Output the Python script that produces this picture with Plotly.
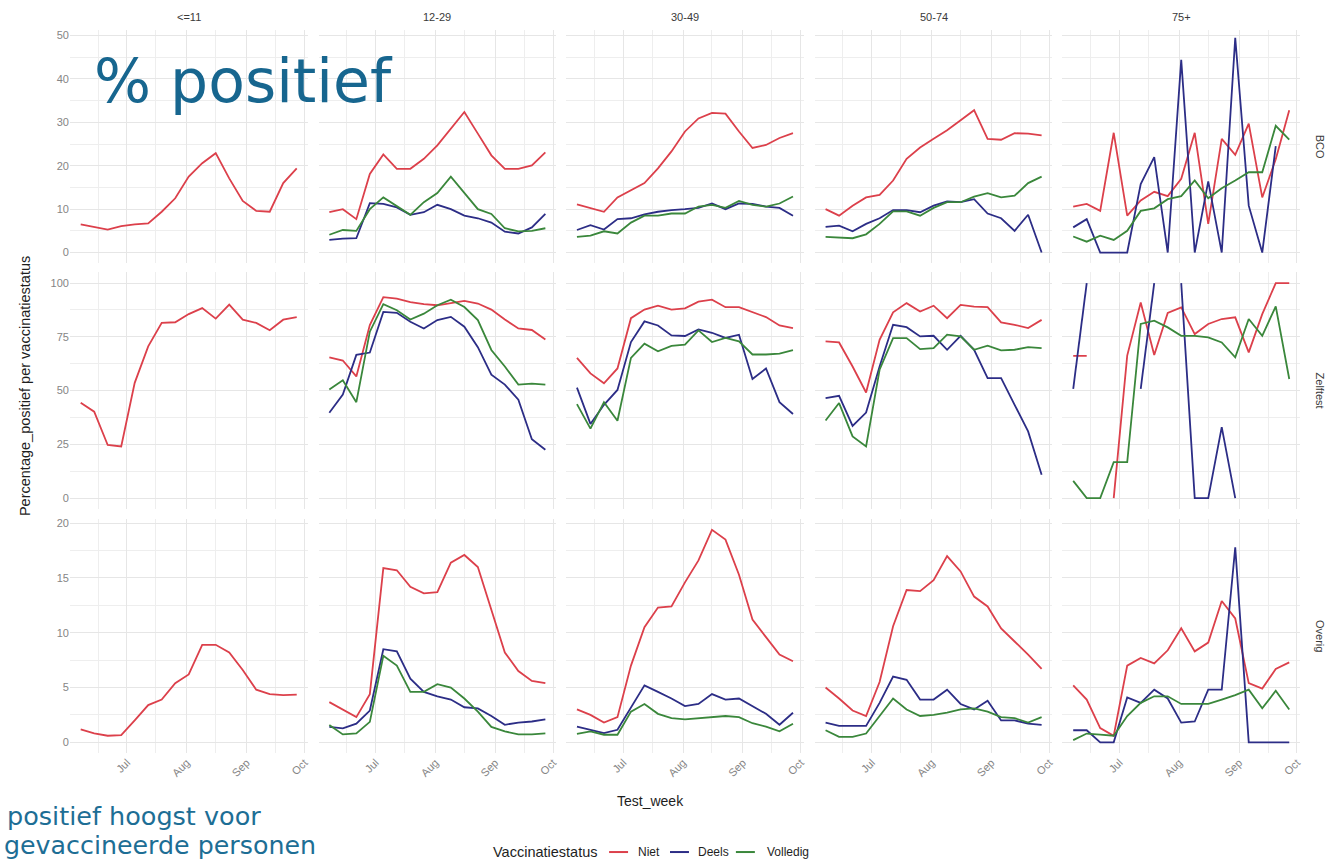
import plotly.graph_objects as go

# ---------------- data ----------------
weeks = ["2021-06-07", "2021-06-14", "2021-06-21", "2021-06-28", "2021-07-05",
         "2021-07-12", "2021-07-19", "2021-07-26", "2021-08-02", "2021-08-09",
         "2021-08-16", "2021-08-23", "2021-08-30", "2021-09-06", "2021-09-13",
         "2021-09-20", "2021-09-27"]
age_groups = ["<=11", "12-29", "30-49", "50-74", "75+"]
test_types = ["BCO", "Zelftest", "Overig"]
statuses = ["Niet", "Deels", "Volledig"]
month_ticks = ["2021-07-01", "2021-08-01", "2021-09-01", "2021-10-01"]

NA17 = [None] * 17

bco_niet = {
    "<=11": [6.5, 5.9, 5.3, 6.1, 6.5, 6.7, 9.4, 12.5, 17.5, 20.6, 22.9, 17.1, 11.9, 9.6, 9.4, 16.0, 19.4],
    "12-29": [9.3, 10.0, 7.7, 18.1, 22.6, 19.3, 19.3, 21.6, 24.7, 28.5, 32.4, 27.4, 22.4, 19.3, 19.3, 20.1, 23.1],
    "30-49": [11.1, 10.2, 9.4, 12.7, 14.4, 16.0, 19.4, 23.3, 27.9, 30.9, 32.2, 32.0, 27.9, 24.1, 24.8, 26.4, 27.5],
    "50-74": [10.0, 8.5, 10.8, 12.7, 13.3, 16.6, 21.6, 24.2, 26.2, 28.2, 30.5, 32.8, 26.2, 26.0, 27.5, 27.4, 27.0],
    "75+": [10.6, 11.2, 9.6, 27.6, 8.5, 12.0, 14.0, 13.0, 17.0, 27.6, 6.6, 26.2, 22.5, 29.7, 12.7, 21.5, 32.8],
}
bco_deels = {
    "<=11": NA17,
    "12-29": [2.9, 3.2, 3.3, 11.4, 11.2, 10.4, 8.7, 9.3, 11.0, 10.0, 8.5, 7.9, 6.9, 4.8, 4.4, 5.8, 8.9],
    "30-49": [5.2, 6.3, 5.3, 7.7, 7.9, 8.8, 9.4, 9.8, 10.0, 10.3, 11.3, 10.0, 11.3, 11.2, 10.6, 10.3, 8.5],
    "50-74": [5.9, 6.2, 4.9, 6.6, 7.9, 9.8, 9.8, 9.3, 10.8, 11.8, 11.6, 12.3, 9.0, 7.9, 5.0, 8.7, 0.0],
    "75+": [5.8, 7.7, 0, 0, 0, 15.8, 22.0, 0, 44.4, 0, 16.4, 0, 49.5, 10.8, 0, 24.5, None],
}
bco_volledig = {
    "<=11": NA17,
    "12-29": [4.1, 5.2, 5.0, 10.0, 12.7, 10.8, 8.7, 11.6, 13.7, 17.5, 13.7, 10.0, 8.9, 5.6, 4.9, 5.0, 5.6],
    "30-49": [3.6, 3.9, 4.9, 4.4, 6.9, 8.5, 8.5, 9.0, 9.0, 10.6, 11.0, 10.3, 11.9, 11.0, 10.6, 11.3, 12.9],
    "50-74": [3.6, 3.5, 3.3, 4.2, 6.6, 9.5, 9.5, 8.5, 10.3, 11.6, 11.6, 12.9, 13.7, 12.7, 13.1, 16.0, 17.5],
    "75+": [3.7, 2.5, 3.9, 2.9, 5.0, 9.6, 10.2, 12.3, 13.0, 16.6, 12.5, 14.8, 16.6, 18.5, 18.5, 29.2, 26.0],
}

zelftest_niet = {
    "<=11": [44.4, 40.2, 24.7, 24.0, 53.6, 70.6, 81.5, 81.8, 85.6, 88.4, 83.5, 90.0, 83.0, 81.5, 78.1, 83.0, 84.2],
    "12-29": [65.5, 64.0, 56.6, 80.5, 93.5, 92.8, 91.2, 90.2, 89.7, 90.8, 91.7, 90.5, 87.7, 83.1, 78.9, 78.2, 73.8],
    "30-49": [65.2, 58.0, 53.4, 60.3, 83.7, 87.7, 89.5, 87.7, 88.3, 91.4, 92.3, 88.8, 88.8, 86.5, 84.2, 80.3, 79.1],
    "50-74": [72.9, 72.4, 61.2, 49.1, 73.6, 86.4, 90.7, 86.8, 89.5, 83.7, 89.9, 89.1, 88.8, 81.7, 80.6, 79.1, 82.9],
    "75+": [66.2, 66.2, None, 0, 66.3, 91.0, 66.6, 86.1, 88.7, 76.3, 81.0, 83.3, 84.1, 67.8, 85.6, 100, 100],
}
zelftest_deels = {
    "<=11": NA17,
    "12-29": [39.7, 48.2, 66.6, 67.7, 86.6, 86.2, 82.0, 78.9, 82.8, 84.3, 79.7, 70.2, 57.4, 52.8, 45.8, 27.4, 22.5],
    "30-49": [51.4, 34.5, 43.4, 50.3, 72.6, 82.2, 80.3, 75.7, 75.4, 78.5, 76.9, 74.5, 76.0, 55.4, 60.3, 44.6, 39.1],
    "50-74": [46.5, 47.6, 33.6, 39.8, 61.2, 80.6, 79.5, 75.2, 75.5, 69.0, 75.5, 69.0, 55.8, 55.8, 43.4, 31.0, 10.9],
    "75+": [50.8, 100, None, None, None, 50.8, 100, None, 100, 0, 0, 33.0, 0, None, None, None, None],
}
zelftest_volledig = {
    "<=11": NA17,
    "12-29": [50.5, 54.8, 44.6, 77.4, 90.2, 87.4, 83.1, 85.8, 89.7, 92.3, 88.9, 82.8, 68.9, 61.2, 52.8, 53.2, 52.8],
    "30-49": [43.7, 32.3, 44.6, 36.0, 65.2, 71.8, 68.3, 70.8, 71.4, 78.0, 72.6, 74.5, 72.9, 66.8, 66.8, 67.2, 68.8],
    "50-74": [36.1, 44.2, 28.7, 24.0, 59.7, 74.4, 74.4, 69.3, 69.8, 76.0, 75.2, 69.0, 70.9, 68.7, 69.0, 70.2, 69.8],
    "75+": [8.0, 0, 0, 16.7, 16.7, 81.0, 82.5, 79.4, 75.5, 75.5, 74.8, 72.4, 65.5, 83.3, 75.5, 89.2, 55.4],
}

overig_niet = {
    "<=11": [1.18, 0.82, 0.6, 0.66, 2.0, 3.4, 3.9, 5.4, 6.2, 8.9, 8.9, 8.2, 6.6, 4.8, 4.4, 4.3, 4.35],
    "12-29": [3.67, 3.0, 2.3, 4.4, 15.9, 15.7, 14.2, 13.6, 13.7, 16.4, 17.1, 16.0, 12.0, 8.2, 6.5, 5.6, 5.4],
    "30-49": [3.0, 2.5, 1.8, 2.3, 7.0, 10.5, 12.3, 12.4, 14.6, 16.6, 19.4, 18.5, 15.3, 11.2, 9.6, 8.0, 7.4],
    "50-74": [5.0, 4.0, 2.9, 2.4, 5.5, 10.6, 13.9, 13.8, 14.8, 17.0, 15.6, 13.3, 12.4, 10.4, 9.2, 8.0, 6.7],
    "75+": [5.2, 3.9, 1.3, 0.6, 7.0, 7.7, 7.2, 8.4, 10.4, 8.3, 9.1, 12.9, 11.3, 5.4, 4.9, 6.7, 7.3],
}
overig_deels = {
    "<=11": NA17,
    "12-29": [1.4, 1.27, 1.7, 2.9, 8.5, 8.3, 5.8, 4.6, 4.2, 3.9, 3.2, 3.1, 2.4, 1.6, 1.8, 1.9, 2.1],
    "30-49": [1.44, 1.14, 0.84, 1.14, 3.2, 5.2, 4.6, 4.0, 3.3, 3.5, 4.4, 3.9, 4.0, 3.3, 2.6, 1.6, 2.7],
    "50-74": [1.8, 1.5, 1.5, 1.5, 3.6, 6.0, 5.7, 3.9, 3.9, 4.8, 3.5, 3.0, 3.8, 2.0, 2.0, 1.7, 1.6],
    "75+": [1.1, 1.1, 0, 0, 4.1, 3.6, 4.8, 4.0, 1.8, 1.9, 4.8, 4.8, 17.8, 0, 0, 0, 0],
}
overig_volledig = {
    "<=11": NA17,
    "12-29": [1.57, 0.72, 0.81, 1.87, 7.9, 7.0, 4.6, 4.6, 5.3, 5.0, 4.0, 2.8, 1.4, 1.0, 0.72, 0.72, 0.81],
    "30-49": [0.78, 1.0, 0.69, 0.69, 2.8, 3.5, 2.6, 2.2, 2.1, 2.2, 2.3, 2.4, 2.3, 1.74, 1.44, 1.0, 1.7],
    "50-74": [1.1, 0.5, 0.5, 0.8, 2.4, 4.0, 3.0, 2.4, 2.5, 2.7, 3.0, 3.1, 2.8, 2.3, 2.2, 1.8, 2.3],
    "75+": [0.2, 0.8, 0.7, 0.6, 2.4, 3.6, 4.2, 4.2, 3.5, 3.5, 3.5, 3.9, 4.3, 4.8, 3.1, 4.7, 3.0],
}

series = {
    ("BCO", "Niet"): bco_niet, ("BCO", "Deels"): bco_deels, ("BCO", "Volledig"): bco_volledig,
    ("Zelftest", "Niet"): zelftest_niet, ("Zelftest", "Deels"): zelftest_deels,
    ("Zelftest", "Volledig"): zelftest_volledig,
    ("Overig", "Niet"): overig_niet, ("Overig", "Deels"): overig_deels,
    ("Overig", "Volledig"): overig_volledig,
}

# ---------------- style / layout ----------------
colors = {"Niet": "#dc404b", "Deels": "#2c2d86", "Volledig": "#3a873b"}
W, H = 1335, 868
col_left = [70, 319, 567, 816, 1064]
panel_w = 238
row_tb = [(28, 262), (271, 508), (518, 753)]
y_ranges = [[-2.5, 51.3], [-5, 105], [-1, 20.4]]
y_dticks = [10, 25, 5]
x_range = ["2021-06-01 09:36", "2021-10-02 14:24"]
label_font = dict(family="Liberation Sans, Arial, sans-serif", size=11, color="#858585")
dark_font = "Liberation Sans, Arial, sans-serif"

fig = go.Figure()
layout = dict(
    width=W, height=H, margin=dict(l=0, r=0, t=0, b=0),
    paper_bgcolor="white", plot_bgcolor="white", showlegend=False,
    font=dict(family=dark_font),
)

for r, tt in enumerate(test_types):
    for c, ag in enumerate(age_groups):
        idx = r * 5 + c + 1
        xk = "xaxis" if idx == 1 else f"xaxis{idx}"
        yk = "yaxis" if idx == 1 else f"yaxis{idx}"
        xr = "x" if idx == 1 else f"x{idx}"
        yr = "y" if idx == 1 else f"y{idx}"
        top, bot = row_tb[r]
        layout[xk] = dict(
            domain=[col_left[c] / W, (col_left[c] + panel_w) / W],
            anchor=yr, type="date", range=x_range,
            tickvals=month_ticks, tickformat="%b", tickangle=-45,
            showticklabels=(r == 2), tickfont=label_font,
            showgrid=True, gridcolor="#e6e6e6", gridwidth=1.2,
            minor=dict(showgrid=True, gridcolor="#eeeeee", gridwidth=0.7,
                       tick0="2021-06-16", dtick="M1"),
            zeroline=False, showline=False, ticks="",
        )
        layout[yk] = dict(
            domain=[1 - bot / H, 1 - top / H], anchor=xr,
            range=y_ranges[r], tick0=0, dtick=y_dticks[r],
            showticklabels=(c == 0), tickfont=label_font,
            showgrid=True, gridcolor="#e6e6e6", gridwidth=1.2,
            minor=dict(showgrid=True, gridcolor="#eeeeee", gridwidth=0.7,
                       tick0=y_dticks[r] / 2, dtick=y_dticks[r]),
            zeroline=False, showline=False, ticks="",
        )
        for st in statuses:
            fig.add_trace(go.Scatter(
                x=weeks, y=series[(tt, st)][ag], mode="lines", name=st,
                line=dict(color=colors[st], width=1.8),
                xaxis=xr, yaxis=yr, connectgaps=False, showlegend=False,
            ))

annotations = []
# strip labels (top)
for c, ag in enumerate(age_groups):
    annotations.append(dict(
        text=ag.replace("<", "&lt;"), x=(col_left[c] + panel_w / 2) / W, y=1 - 15 / H,
        xref="paper", yref="paper", showarrow=False, xanchor="center", yanchor="middle",
        font=dict(family=dark_font, size=11, color="#3a3a3a")))
# strip labels (right)
for r, tt in enumerate(test_types):
    top, bot = row_tb[r]
    annotations.append(dict(
        text=tt, x=1322 / W, y=1 - ((top + bot) / 2) / H, textangle=90,
        xref="paper", yref="paper", showarrow=False, xanchor="center", yanchor="middle",
        font=dict(family=dark_font, size=11, color="#3a3a3a")))
# axis titles
annotations.append(dict(
    text="Percentage_positief per vaccinatiestatus", x=25 / W, y=1 - 385 / H, textangle=-90,
    xref="paper", yref="paper", showarrow=False, xanchor="center", yanchor="middle",
    font=dict(family=dark_font, size=14.5, color="#1e1e1e")))
annotations.append(dict(
    text="Test_week", x=651 / W, y=1 - 801 / H,
    xref="paper", yref="paper", showarrow=False, xanchor="center", yanchor="middle",
    font=dict(family=dark_font, size=14, color="#1e1e1e")))
# legend (drawn manually, ggplot-like)
annotations.append(dict(
    text="Vaccinatiestatus", x=492 / W, y=1 - 852 / H,
    xref="paper", yref="paper", showarrow=False, xanchor="left", yanchor="middle",
    font=dict(family=dark_font, size=14.5, color="#1e1e1e")))
legend_items = [("Niet", 610, 637), ("Deels", 671, 697), ("Volledig", 737, 766)]
shapes = []
for st, lx, tx in legend_items:
    shapes.append(dict(type="line", xref="paper", yref="paper",
                       x0=lx / W, x1=(lx + 19) / W, y0=1 - 852 / H, y1=1 - 852 / H,
                       line=dict(color=colors[st], width=2)))
    annotations.append(dict(
        text=st, x=tx / W, y=1 - 852 / H,
        xref="paper", yref="paper", showarrow=False, xanchor="left", yanchor="middle",
        font=dict(family=dark_font, size=12, color="#1e1e1e")))
# slide overlay texts
annotations.append(dict(
    text="% positief", x=92 / W, y=1 - 79 / H,
    xref="paper", yref="paper", showarrow=False, xanchor="left", yanchor="middle",
    font=dict(family="DejaVu Sans, Verdana, sans-serif", size=60, color="#17668f")))
annotations.append(dict(
    text="positief hoogst voor", x=5 / W, y=1 - 816 / H,
    xref="paper", yref="paper", showarrow=False, xanchor="left", yanchor="middle",
    font=dict(family="DejaVu Sans, Verdana, sans-serif", size=25.5, color="#1d6e95")))
annotations.append(dict(
    text="gevaccineerde personen", x=2 / W, y=1 - 845 / H,
    xref="paper", yref="paper", showarrow=False, xanchor="left", yanchor="middle",
    font=dict(family="DejaVu Sans, Verdana, sans-serif", size=25.3, color="#1d6e95")))

layout["annotations"] = annotations
layout["shapes"] = shapes
fig.update_layout(**layout)
fig.write_html("out.html", config={"displayModeBar": False},
               post_script="document.body.style.margin='0';document.body.style.overflow='hidden';")
